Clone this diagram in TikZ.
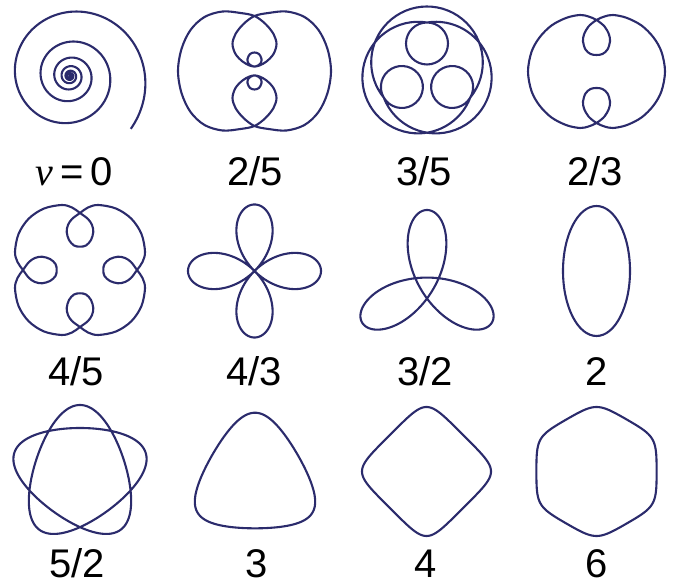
\documentclass[tikz,border=0pt]{standalone}
\usepackage{fontspec}
\setmainfont{Liberation Sans}
\newfontfamily\nufont{Liberation Serif}
\usetikzlibrary{calc}
\definecolor{orbit}{RGB}{43,43,108}
\begin{document}
\begin{tikzpicture}[x=1pt,y=1pt,
  orbitline/.style={draw=orbit, line width=2.1pt, line join=round},
  lab/.style={font=\fontsize{40}{48}\selectfont, anchor=base, inner sep=0pt, text=black}]
\useasboundingbox (0,0) rectangle (674,588);

% nu = 0 : spiral
\begin{scope}[shift={(70,512)}]
\draw[orbitline] plot[domain=-41:2300, samples=900, variable=\t]
  ({75*exp(-0.0017453*\t)*cos(\t)}, {75*exp(-0.0017453*\t)*sin(\t)});
\fill[orbit] (0,0) circle (1.6);
\end{scope}

% 2/5
\begin{scope}[shift={(254.5,517)}]
\draw[orbitline] plot[smooth cycle, tension=0.55] coordinates {
 (0,55)
 (-14,58) (-32,59.5) (-50,54) (-64,41) (-73,22) (-76.5,0) (-73,-22) (-64,-41) (-50,-54) (-32,-59.5) (-14,-58)
 (0,-55)
 (11,-47) (19,-37) (22,-27) (19,-17) (12,-9.5) (5,-5.5) (-1,-4.5) (-6,-7.5) (-7,-12) (-4.5,-17) (0,-18.5) (4.5,-17) (7,-12) (6,-7.5) (1,-4.5) (-5,-5.5) (-12,-9.5) (-19,-17) (-22,-27) (-19,-37) (-11,-47)
 (0,-55)
 (14,-58) (32,-59.5) (50,-54) (64,-41) (73,-22) (76.5,0) (73,22) (64,41) (50,54) (32,59.5) (14,58)
 (0,55)
 (-11,47) (-19,37) (-22,27) (-19,17) (-12,9.5) (-5,5.5) (1,4.5) (6,7.5) (7,12) (4.5,17) (0,18.5) (-4.5,17) (-7,12) (-6,7.5) (-1,4.5) (5,5.5) (12,9.5) (19,17) (22,27) (19,37) (11,47)
};
\end{scope}

% 3/5
\begin{scope}[shift={(427,515.5)}]
\draw[orbitline] (330:50)
  arc[start angle=-39.1, end angle=219.1, radius=55.8]
  arc[start angle=210, end angle=570, radius=21]
  arc[start angle=200.9, end angle=459.1, radius=55.8]
  arc[start angle=90, end angle=450, radius=21]
  arc[start angle=80.9, end angle=339.1, radius=55.8]
  arc[start angle=330, end angle=690, radius=21] -- cycle;
\end{scope}

% 2/3
\begin{scope}[shift={(596.5,516.5)}]
\draw[orbitline] plot[smooth cycle, tension=0.55] coordinates {
 (0,51.5)
 (-8,45) (-12.5,37) (-13.5,30) (-11,22) (-6,17.5) (0,16.5) (6,17.5) (11,22) (13.5,30) (12.5,37) (8,45)
 (0,51.5)
 (-8,55) (-16.5,56.5) (-30,53.7) (-45,46) (-57,34) (-65,19.6) (-68.5,0) (-65,-19.6) (-57,-34) (-45,-46) (-30,-53.7) (-16.5,-56.5) (-8,-55)
 (0,-51.5)
 (8,-45) (12.5,-37) (13.5,-30) (11,-22) (6,-17.5) (0,-16.5) (-6,-17.5) (-11,-22) (-13.5,-30) (-12.5,-37) (-8,-45)
 (0,-51.5)
 (8,-55) (16.5,-56.5) (30,-53.7) (45,-46) (57,-34) (65,-19.6) (68.5,0) (65,19.6) (57,34) (45,46) (30,53.7) (16.5,56.5) (8,55)
};
\end{scope}

% 4/5
\begin{scope}[shift={(80,318)}]
\draw[orbitline] plot[smooth cycle, tension=0.55] coordinates {
 (0,57)
 (-8,51) (-12,45) (-13.3,38) (-11,30) (-6,24.5) (0,23.3) (6,24.5) (11,30) (13.3,38) (12,45) (8,51)
 (0,57)
 (-8,62.5) (-18.3,65) (-36.2,61.4) (-51.3,51.3) (-61.4,36.2) (-65,18.3) (-62.5,8)
 (-57,0)
 (-51,-8) (-45,-12) (-38,-13.3) (-30,-11) (-24.5,-6) (-23.3,0) (-24.5,6) (-30,11) (-38,13.3) (-45,12) (-51,8)
 (-57,0)
 (-62.5,-8) (-65,-18.3) (-61.4,-36.2) (-51.3,-51.3) (-36.2,-61.4) (-18.3,-65) (-8,-62.5)
 (0,-57)
 (8,-51) (12,-45) (13.3,-38) (11,-30) (6,-24.5) (0,-23.3) (-6,-24.5) (-11,-30) (-13.3,-38) (-12,-45) (-8,-51)
 (0,-57)
 (8,-62.5) (18.3,-65) (36.2,-61.4) (51.3,-51.3) (61.4,-36.2) (65,-18.3) (62.5,-8)
 (57,0)
 (51,8) (45,12) (38,13.3) (30,11) (24.5,6) (23.3,0) (24.5,-6) (30,-11) (38,-13.3) (45,-12) (51,-8)
 (57,0)
 (62.5,8) (65,18.3) (61.4,36.2) (51.3,51.3) (36.2,61.4) (18.3,65) (8,62.5)
};
\end{scope}

% 4/3
\begin{scope}[shift={(254.5,317)}]
\draw[orbitline] plot[domain=0:360, samples=361, variable=\t]
  ({33.25*(cos(3*\t)+cos(-\t))}, {33.25*(sin(3*\t)+sin(-\t))}) -- cycle;
\end{scope}

% 3/2
\begin{scope}[shift={(427,303)}, rotate=90]
\draw[orbitline] plot[domain=0:360, samples=361, variable=\t]
  ({41.2*(cos(2*\t)+0.82*cos(-\t))}, {41.2*(sin(2*\t)+0.82*sin(-\t))}) -- cycle;
\end{scope}

% 2
\draw[orbitline] (596.5,317) ellipse [x radius=33.5, y radius=65];

% 5/2
\begin{scope}[shift={(80,114)}, rotate=90]
\draw[orbitline] plot[domain=0:360, samples=361, variable=\t]
  ({57.5*(cos(2*\t)+0.2*cos(-3*\t))}, {57.5*(sin(2*\t)+0.2*sin(-3*\t))}) -- cycle;
\end{scope}

% 3
\begin{scope}[shift={(255,108.8)}, rotate=90]
\draw[orbitline] plot[domain=0:360, samples=361, variable=\t]
  ({57.8*(cos(\t)+0.15*cos(-2*\t))}, {57.8*(sin(\t)+0.15*sin(-2*\t))}) -- cycle;
\end{scope}

% 4
\begin{scope}[shift={(426.5,116.5)}]
\draw[orbitline] plot[domain=0:360, samples=361, variable=\t]
  ({58.1*(cos(\t)+0.11*cos(-3*\t))}, {58.1*(sin(\t)+0.11*sin(-3*\t))}) -- cycle;
\end{scope}

% 6
\begin{scope}[shift={(596.5,116.5)}, rotate=90]
\draw[orbitline] plot[domain=0:360, samples=361, variable=\t]
  ({62.3*(cos(\t)+0.035*cos(-5*\t))}, {62.3*(sin(\t)+0.035*sin(-5*\t))}) -- cycle;
\end{scope}

% labels
\node[lab] (l0)  at (74,402)  {{\nufont\itshape ν}\hspace{0.18em}=\hspace{0.18em}0};
\node[lab] (l25) at (255,402) {2/5};
\node[lab] (l35) at (424,402) {3/5};
\node[lab] (l23) at (595,402) {2/3};
\node[lab] (l45) at (76,202)  {4/5};
\node[lab] (l43) at (254,202) {4/3};
\node[lab] (l32) at (425,202) {3/2};
\node[lab] (l2)  at (597,202) {2};
\node[lab] (l52) at (77,10)   {5/2};
\node[lab] (l3)  at (257,10)  {3};
\node[lab] (l4)  at (426,10)  {4};
\node[lab] (l6)  at (597,10)  {6};
\end{tikzpicture}
\end{document}
